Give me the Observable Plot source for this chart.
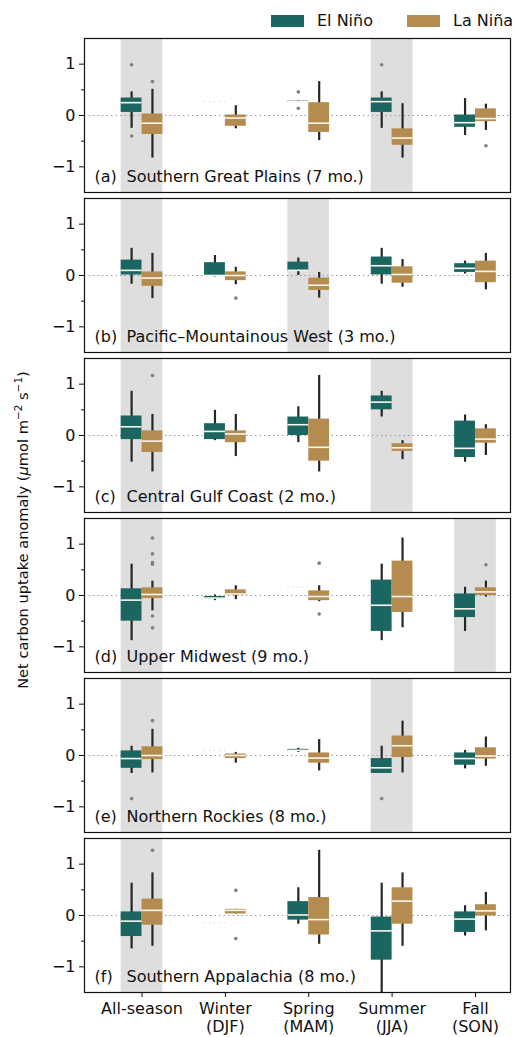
<!DOCTYPE html>
<html>
<head>
<meta charset="utf-8">
<script src="https://cdn.jsdelivr.net/npm/d3@7"></script>
<script src="https://cdn.jsdelivr.net/npm/@observablehq/plot@0.6"></script>
<style>
  html, body { margin: 0; padding: 0; background: #fff; }
  body { font-family: "DejaVu Sans", sans-serif; }
  #wrap { position: relative; width: 514px; height: 1037px; }
  #legend { position: relative; height: 36px; }
  .sw { position: absolute; top: 15px; width: 33px; height: 12px; }
  .lt { position: absolute; top: 11px; font-size: 16px; line-height: 20px; color: #111; }
  #ylab { position: absolute; left: 22px; top: 530px; transform: translate(-50%, -50%) rotate(-90deg);
          white-space: nowrap; font-size: 14.6px; color: #111; }
  #ylab sup { font-size: 10.5px; vertical-align: 6px; line-height: 0; }
</style>
</head>
<body>
<div id="wrap">
  <div id="legend">
    <div class="sw" style="left:271px;background:#1b6660"></div><div class="lt" style="left:317px">El Niño</div>
    <div class="sw" style="left:407px;background:#b58c4f"></div><div class="lt" style="left:453px">La Niña</div>
  </div>
  <div id="chart"></div>
  <div id="ylab">Net carbon uptake anomaly (<i>μ</i>mol m<sup>−2</sup> s<sup>−1</sup>)</div>
</div>
<script>
const seasons = ["All-season", "Winter\n(DJF)", "Spring\n(MAM)", "Summer\n(JJA)", "Fall\n(SON)"];
const regionLetters = ["(a)", "(b)", "(c)", "(d)", "(e)", "(f)"];
const regionNames = ["Southern Great Plains (7 mo.)", "Pacific–Mountainous West (3 mo.)", "Central Gulf Coast (2 mo.)",
                     "Upper Midwest (9 mo.)", "Northern Rockies (8 mo.)", "Southern Appalachia (8 mo.)"];
const shadedSeasons = [[0, 3], [0, 2], [0, 3], [0, 4], [0, 3], [0]];

// per season: [whisker low, q1, median, q3, whisker high]
const elNinoA = [[-0.25,0.06,0.25,0.34,0.46],[0.27,0.27,0.27,0.27,0.27],[0.26,0.26,0.27,0.28,0.28],[-0.25,0.06,0.27,0.34,0.46],[-0.39,-0.23,-0.14,0.01,0.33]];
const laNinaA = [[-0.83,-0.37,-0.15,0.03,0.51],[-0.26,-0.21,-0.05,0.01,0.19],[-0.49,-0.33,-0.15,0.25,0.66],[-0.83,-0.58,-0.44,-0.26,0.23],[-0.29,-0.12,-0.06,0.13,0.22]];
const elNinoB = [[-0.17,0.01,0.10,0.30,0.53],[-0.03,-0.02,0.0,0.25,0.39],[0.0,0.08,0.10,0.26,0.34],[-0.17,0.01,0.19,0.36,0.53],[0.03,0.06,0.14,0.23,0.28]];
const laNinaB = [[-0.45,-0.21,-0.05,0.07,0.43],[-0.18,-0.10,0.0,0.07,0.16],[-0.44,-0.29,-0.19,-0.05,0.06],[-0.23,-0.15,0.02,0.17,0.31],[-0.28,-0.14,0.08,0.28,0.43]];
const elNinoC = [[-0.52,-0.08,0.17,0.38,0.86],[-0.10,-0.08,0.08,0.23,0.49],[-0.14,0.0,0.21,0.36,0.56],[0.36,0.50,0.65,0.77,0.86],[-0.52,-0.43,-0.25,0.28,0.40]];
const laNinaC = [[-0.71,-0.33,-0.11,0.09,0.41],[-0.41,-0.14,0.03,0.09,0.41],[-0.71,-0.50,-0.23,0.32,1.17],[-0.47,-0.31,-0.24,-0.16,-0.10],[-0.39,-0.15,-0.07,0.13,0.21]];
const elNinoD = [[-0.88,-0.50,-0.09,0.13,0.61],[-0.10,-0.07,-0.05,-0.02,0.01],[0.16,0.16,0.16,0.16,0.16],[-0.88,-0.70,-0.19,0.30,0.61],[-0.70,-0.43,-0.26,0.03,0.16]];
const laNinaD = [[-0.30,-0.06,0.02,0.15,0.28],[-0.08,0.0,0.03,0.11,0.19],[-0.12,-0.10,-0.02,0.09,0.19],[-0.63,-0.33,-0.02,0.67,1.12],[-0.03,0.0,0.07,0.15,0.28]];
const elNinoE = [[-0.35,-0.25,-0.06,0.09,0.18],[0.10,0.10,0.10,0.10,0.10],[0.06,0.08,0.10,0.12,0.14],[-0.35,-0.35,-0.24,-0.06,0.18],[-0.26,-0.19,-0.06,0.05,0.10]];
const laNinaE = [[-0.34,-0.08,0.0,0.17,0.51],[-0.15,-0.06,0.0,0.03,0.06],[-0.30,-0.15,-0.05,0.05,0.31],[-0.34,-0.04,0.19,0.38,0.67],[-0.21,-0.07,-0.01,0.15,0.36]];
const elNinoF = [[-0.65,-0.41,-0.11,0.07,0.63],[-0.14,-0.14,-0.14,-0.14,-0.14],[-0.17,-0.09,0.01,0.27,0.54],[-1.6,-0.87,-0.30,-0.03,0.63],[-0.40,-0.33,-0.07,0.07,0.19]];
const laNinaF = [[-0.60,-0.19,0.10,0.32,0.83],[0.03,0.03,0.10,0.12,0.12],[-0.56,-0.38,-0.08,0.35,1.27],[-0.60,-0.17,0.28,0.54,0.83],[-0.30,-0.01,0.09,0.21,0.45]];

// outliers: [season index, value]
const outElNinoA = [[0,0.99],[0,-0.40],[2,0.46],[2,0.14],[3,0.99]];
const outLaNinaA = [[0,0.66],[4,-0.59]];
const outElNinoB = [];
const outLaNinaB = [[1,-0.44]];
const outElNinoC = [];
const outLaNinaC = [[0,1.17]];
const outElNinoD = [];
const outLaNinaD = [[0,1.12],[0,0.81],[0,0.64],[0,0.61],[0,-0.40],[0,-0.63],[2,0.63],[2,-0.36],[4,0.60]];
const outElNinoE = [[0,-0.84],[3,-0.84]];
const outLaNinaE = [[0,0.68]];
const outElNinoF = [];
const outLaNinaF = [[0,1.27],[1,0.49],[1,-0.45]];

const ensoNames = ["El Niño", "La Niña"];
const colors = ["#1b6660", "#b58c4f"];

const statsByRegion = [[elNinoA, laNinaA], [elNinoB, laNinaB], [elNinoC, laNinaC], [elNinoD, laNinaD], [elNinoE, laNinaE], [elNinoF, laNinaF]];
const outByRegion = [[outElNinoA, outLaNinaA], [outElNinoB, outLaNinaB], [outElNinoC, outLaNinaC], [outElNinoD, outLaNinaD], [outElNinoE, outLaNinaE], [outElNinoF, outLaNinaF]];

const boxW = 0.25;
const rows = [];
const outs = [];
statsByRegion.forEach((pair, r) => pair.forEach((series, e) => series.forEach((st, s) => {
  rows.push({region: regionNames[r], enso: e, s, x: s + (e === 0 ? -boxW / 2 : boxW / 2),
             lo: st[0], q1: st[1], med: st[2], q3: st[3], hi: st[4]});
})));
outByRegion.forEach((pair, r) => pair.forEach((list, e) => list.forEach(([s, v]) => {
  outs.push({region: regionNames[r], x: s + (e === 0 ? -boxW / 2 : boxW / 2), v});
})));
const shades = [];
shadedSeasons.forEach((list, r) => list.forEach(s => shades.push({region: regionNames[r], s})));
const labels = regionNames.map((n, i) => ({region: n, letter: regionLetters[i]}));

const normal = rows.filter(d => d.q3 > d.q1);
const flat = rows.filter(d => d.q3 === d.q1);

const chart = Plot.plot({
  width: 514,
  height: 1001,
  marginTop: 2,
  marginBottom: 44,
  marginLeft: 84,
  marginRight: 4,
  style: {fontFamily: "DejaVu Sans, sans-serif", fontSize: "16px", color: "#111", background: "#fff"},
  x: {type: "linear", domain: [-0.69, 4.42], axis: null},
  y: {domain: [-1.5, 1.5], axis: null},
  fy: {domain: regionNames, axis: null, paddingInner: 0.035, paddingOuter: 0},
  marks: [
    Plot.rect(shades, {fy: "region", x1: d => d.s - 0.25, x2: d => d.s + 0.25, fill: "#dedede"}),
    Plot.ruleY([0], {stroke: "#9a9a9a", strokeWidth: 1.2, strokeDasharray: "1.5,3"}),
    Plot.ruleX(normal, {fy: "region", x: "x", y1: "lo", y2: "hi", stroke: "#262626", strokeWidth: 2.2, clip: true}),
    Plot.rect(normal, {fy: "region", x1: d => d.x - boxW / 2, x2: d => d.x + boxW / 2, y1: "q1", y2: "q3",
                       fill: d => colors[d.enso], clip: true}),
    Plot.ruleY(normal, {fy: "region", y: "med", x1: d => d.x - boxW / 2, x2: d => d.x + boxW / 2,
                        stroke: "#fbf6ee", strokeWidth: 1.6}),
    Plot.ruleY(flat, {fy: "region", y: "med", x1: d => d.x - boxW / 2, x2: d => d.x + boxW / 2,
                      stroke: d => d.enso === 0 ? "#c8dcda" : "#e6d8c2", strokeWidth: 1.2, strokeDasharray: "1,4"}),
    Plot.dot(outs, {fy: "region", x: "x", y: "v", r: 1.8, fill: "#7f7f7f", stroke: null}),
    Plot.text(labels, {fy: "region", text: "letter", frameAnchor: "bottom-left", lineAnchor: "middle",
                       textAnchor: "start", dx: 10, dy: -16, fontSize: 16, fill: "#111"}),
    Plot.text(labels, {fy: "region", text: "region", frameAnchor: "bottom-left", lineAnchor: "middle",
                       textAnchor: "start", dx: 42, dy: -16, fontSize: 16, fill: "#111"}),
    Plot.axisY({ticks: [-1, 0, 1], tickSize: 5, tickPadding: 4, tickFormat: d3.format("d"), label: null,
                fontSize: 16, stroke: "#111", strokeWidth: 1}),
    Plot.axisY({ticks: [-0.5, 0.5], tickSize: 3, tickFormat: () => "", label: null, stroke: "#111", strokeWidth: 1}),
    Plot.axisX({ticks: [0, 1, 2, 3, 4], tickSize: 5, tickPadding: 4, tickFormat: i => seasons[i], label: null,
                fontSize: 16, lineHeight: 1.1, stroke: "#111", strokeWidth: 1}),
    Plot.frame({stroke: "#111", strokeWidth: 1.2})
  ]
});
document.getElementById("chart").appendChild(chart);
</script>
</body>
</html>
